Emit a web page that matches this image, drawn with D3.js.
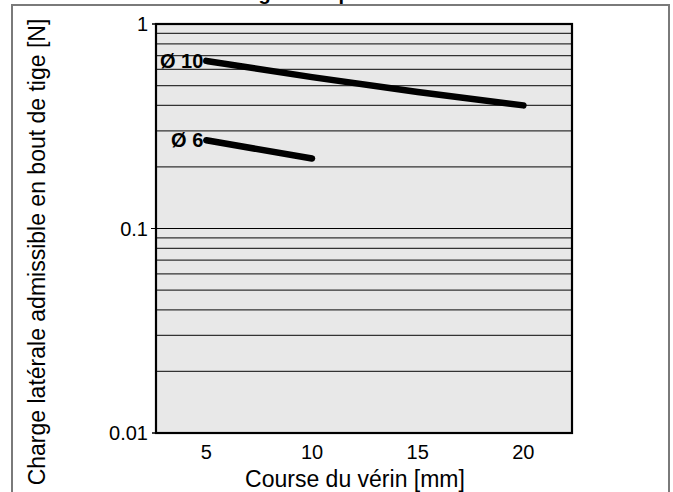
<!DOCTYPE html>
<html>
<head>
<meta charset="utf-8">
<script src="https://cdn.jsdelivr.net/npm/d3@7"></script>
<style>
  html, body { margin: 0; padding: 0; background: #fff; }
  svg { display: block; font-family: "Liberation Sans", Arial, Helvetica, sans-serif; }
</style>
</head>
<body>
<div id="chart"></div>
<script>
// data
const strokeD10 = [5, 10, 15, 20];          // course [mm]
const loadD10 = [0.66, 0.55, 0.465, 0.40];  // charge [N]
const strokeD6 = [5, 10];
const loadD6 = [0.27, 0.22];
const seriesLabels = ["Ø 10", "Ø 6"];
const xTicks = [5, 10, 15, 20];
const yTicks = [1, 0.1, 0.01];
const yTickLabels = ["1", "0.1", "0.01"];
const yMinor = [0.02, 0.03, 0.04, 0.05, 0.06, 0.07, 0.08, 0.09, 0.2, 0.3, 0.4, 0.5, 0.6, 0.7, 0.8, 0.9];

const W = 673, H = 492;
const plot = {left: 156, top: 24, right: 572, bottom: 433};

const svg = d3.select("#chart").append("svg")
    .attr("width", W)
    .attr("height", H);

// outer frame (bottom runs off the picture)
svg.append("rect")
    .attr("x", 12).attr("y", 5)
    .attr("width", 657).attr("height", 520)
    .attr("fill", "none")
    .attr("stroke", "#7a7a7a")
    .attr("stroke-width", 2);

// title, mostly cut off at the top as in the source
svg.append("text")
    .attr("x", 213).attr("y", -0.5)
    .style("font-size", "20px")
    .style("font-weight", "bold")
    .text("Charge max. par course");

const x = d3.scaleLinear().domain([2.62, 22.3]).range([plot.left, plot.right]);
const y = d3.scaleLog().domain([0.01, 1]).range([plot.bottom, plot.top]);

// plot background
svg.append("rect")
    .attr("x", plot.left).attr("y", plot.top)
    .attr("width", plot.right - plot.left)
    .attr("height", plot.bottom - plot.top)
    .attr("fill", "#e8e8e8");

// horizontal grid lines
svg.append("g").selectAll("line")
    .data(yMinor.concat([0.1]))
    .join("line")
    .attr("x1", d => d === 0.1 ? plot.left - 5 : plot.left)
    .attr("x2", plot.right)
    .attr("y1", d => y(d)).attr("y2", d => y(d))
    .attr("stroke", d => d === 0.1 ? "#000" : "#333")
    .attr("stroke-width", 1.2);

// small ticks at 1 and 0.01
svg.append("g").selectAll("line")
    .data([1, 0.01])
    .join("line")
    .attr("x1", plot.left - 4).attr("x2", plot.left)
    .attr("y1", d => y(d)).attr("y2", d => y(d))
    .attr("stroke", "#000")
    .attr("stroke-width", 1.5);

// plot border
svg.append("rect")
    .attr("x", plot.left).attr("y", plot.top)
    .attr("width", plot.right - plot.left)
    .attr("height", plot.bottom - plot.top)
    .attr("fill", "none")
    .attr("stroke", "#000")
    .attr("stroke-width", 2.2);

// y tick labels
svg.append("g").selectAll("text")
    .data(yTicks)
    .join("text")
    .attr("x", plot.left - 8)
    .attr("y", d => y(d))
    .attr("dy", "0.35em")
    .attr("text-anchor", "end")
    .style("font-size", "20px")
    .text((d, i) => yTickLabels[i]);

// x tick labels
svg.append("g").selectAll("text")
    .data(xTicks)
    .join("text")
    .attr("x", d => x(d))
    .attr("y", 459)
    .attr("text-anchor", "middle")
    .style("font-size", "20px")
    .text(d => d);

// axis titles
svg.append("text")
    .attr("x", 355).attr("y", 487)
    .attr("text-anchor", "middle")
    .style("font-size", "23px")
    .text("Course du vérin [mm]");

svg.append("text")
    .attr("transform", "translate(45,252) rotate(-90)")
    .attr("text-anchor", "middle")
    .style("font-size", "23px")
    .text("Charge latérale admissible en bout de tige [N]");

// curves
const line = d3.line()
    .x(d => x(d[0]))
    .y(d => y(d[1]))
    .curve(d3.curveMonotoneX);

const series = [
    d3.zip(strokeD10, loadD10),
    d3.zip(strokeD6, loadD6)
];

svg.append("g").selectAll("path")
    .data(series)
    .join("path")
    .attr("d", line)
    .attr("fill", "none")
    .attr("stroke", "#000")
    .attr("stroke-width", 6.5)
    .attr("stroke-linecap", "round");

// series labels, placed left of the first point
svg.append("g").selectAll("text")
    .data(series)
    .join("text")
    .attr("x", d => x(d[0][0]) - 3)
    .attr("y", d => y(d[0][1]))
    .attr("dy", "0.35em")
    .attr("text-anchor", "end")
    .style("font-size", "20px")
    .style("font-weight", "bold")
    .text((d, i) => seriesLabels[i]);
</script>
</body>
</html>
